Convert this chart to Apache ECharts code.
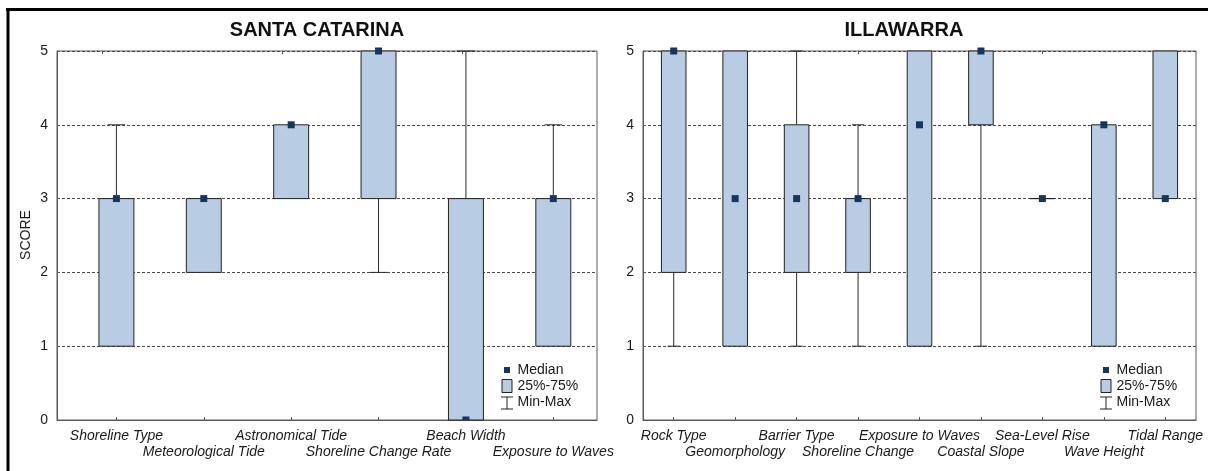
<!DOCTYPE html>
<html>
<head>
<meta charset="utf-8">
<script src="https://cdn.jsdelivr.net/npm/echarts@6/dist/echarts.min.js"></script>
<style>
  html, body { margin: 0; padding: 0; background: #ffffff; }
  #chart { width: 1208px; height: 471px; }
</style>
</head>
<body>
<div id="chart"></div>
<script>
// Santa Catarina: score statistics per vulnerability variable
const scCategories = ['Shoreline Type', 'Meteorological Tide', 'Astronomical Tide',
  'Shoreline Change Rate', 'Beach Width', 'Exposure to Waves'];
const scMin    = [1, 2, 3, 2, 0, 1];
const scQ1     = [1, 2, 3, 3, 0, 1];
const scMedian = [3, 3, 4, 5, 0, 3];
const scQ3     = [3, 3, 4, 5, 3, 3];
const scMax    = [4, 3, 4, 5, 5, 4];

// Illawarra: score statistics per vulnerability variable
const ilCategories = ['Rock Type', 'Geomorphology', 'Barrier Type', 'Shoreline Change',
  'Exposure to Waves', 'Coastal Slope', 'Sea-Level Rise', 'Wave Height', 'Tidal Range'];
const ilMin    = [1, 1, 1, 1, 1, 1, 3, 1, 3];
const ilQ1     = [2, 1, 2, 2, 1, 4, 3, 1, 3];
const ilMedian = [5, 3, 3, 3, 4, 5, 3, 4, 3];
const ilQ3     = [5, 5, 4, 3, 5, 5, 3, 4, 5];
const ilMax    = [5, 5, 5, 4, 5, 5, 3, 4, 5];

const scoreTicks = [0, 1, 2, 3, 4, 5];
const legendItems = ['Median', '25%-75%', 'Min-Max'];

const FONT = 'Liberation Sans, Arial, sans-serif';
const BOX_FILL = '#b8cce4';
const BOX_EDGE = '#222222';
const MEDIAN_COLOR = '#17365d';
const FRAME = '#5a5a5a';
const TEXT = '#1a1a1a';

const panels = [
  { title: 'SANTA CATARINA', titleX: 317, cats: scCategories,
    min: scMin, q1: scQ1, med: scMedian, q3: scQ3, max: scMax,
    grid: { left: 57, top: 51, width: 540, height: 369 }, xMin: 0.32, xMax: 6.5 },
  { title: 'ILLAWARRA', titleX: 904, cats: ilCategories,
    min: ilMin, q1: ilQ1, med: ilMedian, q3: ilQ3, max: ilMax,
    grid: { left: 643, top: 51, width: 553, height: 369 }, xMin: 0.5, xMax: 9.5 }
];

const BOX_HALF = 0.2;   // half box width, in category units
const CAP_HALF = 0.1;   // half whisker-cap width
const MEDIAN_SIZE = 7;

function renderBox(params, api) {
  const x = api.value(0);
  const vMin = api.value(1), vQ1 = api.value(2), vMed = api.value(3),
        vQ3 = api.value(4), vMax = api.value(5);
  const cs = params.coordSys;
  const pMin = api.coord([x, vMin]);
  const pQ1 = api.coord([x, vQ1]);
  const pMed = api.coord([x, vMed]);
  const pQ3 = api.coord([x, vQ3]);
  const pMax = api.coord([x, vMax]);
  const boxL = api.coord([x - BOX_HALF, vQ1])[0];
  const boxR = api.coord([x + BOX_HALF, vQ1])[0];
  const capL = api.coord([x - CAP_HALF, vQ1])[0];
  const capR = api.coord([x + CAP_HALF, vQ1])[0];
  const cx = pMed[0];
  const lineStyle = { stroke: '#2a2a2a', lineWidth: 1 };
  const children = [];

  if (vMax > vQ3) {
    children.push({ type: 'line', shape: { x1: cx, y1: pQ3[1], x2: cx, y2: pMax[1] }, style: lineStyle });
    children.push({ type: 'line', shape: { x1: capL, y1: pMax[1], x2: capR, y2: pMax[1] }, style: lineStyle });
  }
  if (vMin < vQ1) {
    children.push({ type: 'line', shape: { x1: cx, y1: pQ1[1], x2: cx, y2: pMin[1] }, style: lineStyle });
    children.push({ type: 'line', shape: { x1: capL, y1: pMin[1], x2: capR, y2: pMin[1] }, style: lineStyle });
  }
  children.push({
    type: 'rect',
    shape: { x: boxL, y: pQ3[1], width: boxR - boxL, height: pQ1[1] - pQ3[1] },
    style: { fill: BOX_FILL, stroke: BOX_EDGE, lineWidth: 1 }
  });
  // median marker, kept inside the bottom of the plot area
  const top = pMed[1] - MEDIAN_SIZE / 2;
  const bottom = Math.min(pMed[1] + MEDIAN_SIZE / 2, cs.y + cs.height);
  children.push({
    type: 'rect',
    shape: { x: cx - MEDIAN_SIZE / 2, y: top, width: MEDIAN_SIZE, height: Math.max(bottom - top, 0) },
    style: { fill: MEDIAN_COLOR }
  });
  return { type: 'group', children: children };
}

const grids = [], xAxes = [], yAxes = [], series = [], graphics = [];

panels.forEach((p, k) => {
  grids.push(Object.assign({ show: true, borderColor: FRAME, borderWidth: 1, backgroundColor: '#ffffff' }, p.grid));
  const positions = p.cats.map((c, i) => i + 1);

  xAxes.push({
    type: 'value', gridIndex: k, min: p.xMin, max: p.xMax, position: 'bottom',
    axisLine: { show: true, lineStyle: { color: FRAME } },
    axisTick: { show: true, inside: true, length: 3, customValues: positions, lineStyle: { color: FRAME } },
    splitLine: { show: false },
    axisLabel: { show: false }
  });
  // tick marks along the top edge
  xAxes.push({
    type: 'category', gridIndex: k, position: 'top', data: p.cats, boundaryGap: true,
    axisLine: { show: false },
    axisTick: { show: true, inside: true, length: 3, alignWithLabel: true, lineStyle: { color: FRAME } },
    axisLabel: { show: false },
    splitLine: { show: false }
  });
  yAxes.push({
    type: 'value', gridIndex: k, min: scoreTicks[0], max: scoreTicks[scoreTicks.length - 1], interval: 1,
    axisLine: { show: true, lineStyle: { color: FRAME } },
    axisTick: { show: true, inside: true, length: 3, lineStyle: { color: FRAME } },
    axisLabel: { fontFamily: FONT, fontSize: 14, color: TEXT, margin: 9 },
    splitLine: { show: true, lineStyle: { color: '#4a4a4a', type: [3, 2], width: 1 } }
  });

  series.push({
    type: 'custom', xAxisIndex: k * 2, yAxisIndex: k,
    renderItem: renderBox,
    encode: { x: 0, y: [1, 2, 3, 4, 5] },
    data: p.cats.map((c, i) => [i + 1, p.min[i], p.q1[i], p.med[i], p.q3[i], p.max[i]]),
    clip: false, z: 5
  });

  // panel title
  graphics.push({
    type: 'text', x: p.titleX, y: 30,
    style: { text: p.title, fontFamily: FONT, fontSize: 20, fontWeight: 'bold', fill: '#111111',
      align: 'center', verticalAlign: 'middle' }
  });

  // legend in the lower-right corner of the plot
  const pr = p.grid.left + p.grid.width;
  const ic = pr - 90;
  graphics.push({ type: 'rect', shape: { x: ic - 3, y: 367, width: 6, height: 6 }, style: { fill: MEDIAN_COLOR }, z: 20 });
  graphics.push({ type: 'rect', shape: { x: ic - 5, y: 379.5, width: 10, height: 13 },
    style: { fill: BOX_FILL, stroke: BOX_EDGE, lineWidth: 1 }, z: 20 });
  graphics.push({ type: 'line', shape: { x1: ic, y1: 397, x2: ic, y2: 409 }, style: { stroke: '#222', lineWidth: 1 }, z: 20 });
  graphics.push({ type: 'line', shape: { x1: ic - 6, y1: 397, x2: ic + 6, y2: 397 }, style: { stroke: '#222', lineWidth: 1 }, z: 20 });
  graphics.push({ type: 'line', shape: { x1: ic - 6, y1: 409, x2: ic + 6, y2: 409 }, style: { stroke: '#222', lineWidth: 1 }, z: 20 });
  legendItems.forEach((name, j) => {
    graphics.push({
      type: 'text', x: pr - 79.5, y: 370 + j * 16.3, z: 20,
      style: { text: name, fontFamily: FONT, fontSize: 14, fill: TEXT, align: 'left', verticalAlign: 'middle' }
    });
  });
});

// shared axis name
graphics.push({
  type: 'text', x: 26.5, y: 235, rotation: Math.PI / 2,
  style: { text: 'SCORE', fontFamily: FONT, fontSize: 14, fill: TEXT, align: 'center', verticalAlign: 'middle' }
});
// outer frame (top and left edges)
graphics.push({ type: 'line', shape: { x1: 6, y1: 9.5, x2: 1208, y2: 9.5 }, style: { stroke: '#000', lineWidth: 3 }, z: 30 });
graphics.push({ type: 'line', shape: { x1: 8, y1: 8, x2: 8, y2: 471 }, style: { stroke: '#000', lineWidth: 3 }, z: 30 });

const chart = echarts.init(document.getElementById('chart'), null, { renderer: 'canvas' });
chart.setOption({
  animation: false,
  backgroundColor: '#ffffff',
  textStyle: { fontFamily: FONT },
  grid: grids,
  xAxis: xAxes,
  yAxis: yAxes,
  series: series
});

// category names below each panel, alternating between two rows,
// placed at the category positions of the bottom axis
panels.forEach((p, k) => {
  const axisBottom = p.grid.top + p.grid.height;
  p.cats.forEach((name, i) => {
    const px = chart.convertToPixel({ xAxisIndex: k * 2 }, i + 1);
    graphics.push({
      type: 'text', x: px, y: axisBottom + (i % 2 === 0 ? 16.5 : 32.5),
      style: { text: name, fontFamily: FONT, fontSize: 14, fontStyle: 'italic', fill: TEXT,
        align: 'center', verticalAlign: 'middle' }
    });
  });
});

chart.setOption({ graphic: graphics });
</script>
</body>
</html>
